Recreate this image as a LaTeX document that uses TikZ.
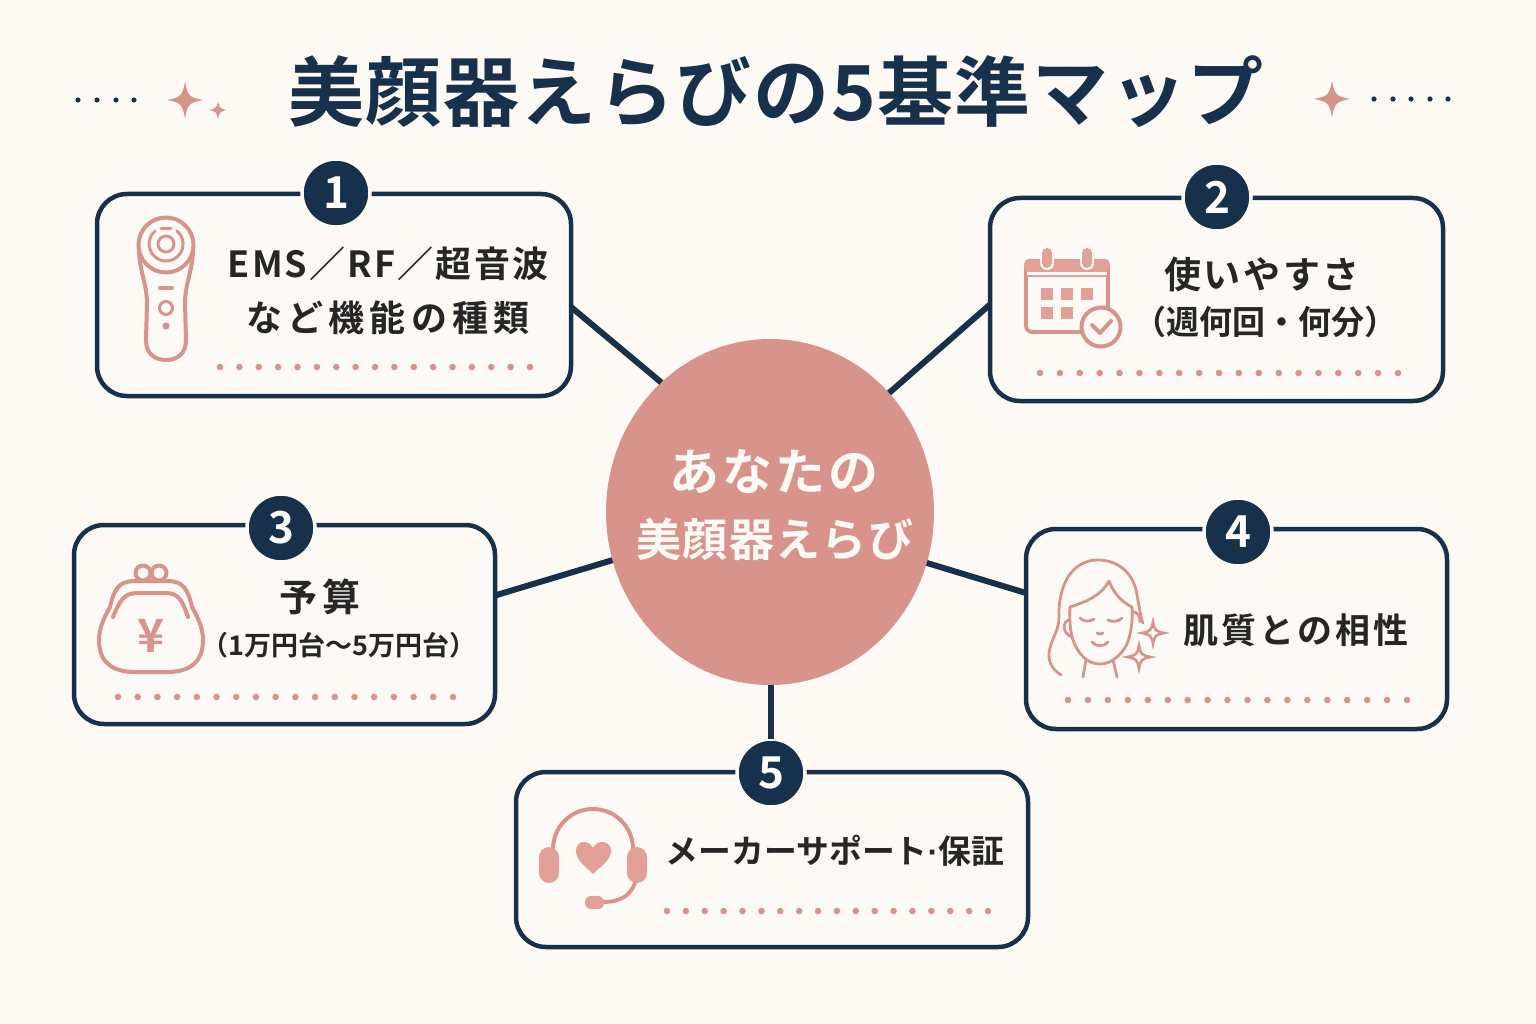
\documentclass[tikz,border=0pt]{standalone}
\usepackage{fontspec}
\usetikzlibrary{shapes.geometric}
\setmainfont{Noto Sans CJK JP}[BoldFont={* Bold}]
\definecolor{pagebg}{HTML}{FDFAF5}
\definecolor{navy}{HTML}{17304B}
\definecolor{rose}{HTML}{D9938D}
\definecolor{rosefill}{HTML}{E3A098}
\definecolor{inkc}{HTML}{262626}
\newcommand{\fs}[2]{\fontsize{#1}{#1}\selectfont\addfontfeature{LetterSpace=#2}}
\newcommand{\dotrow}[4]{%
  \pgfmathsetmacro{\dstep}{(#2-#1)/(#3-1)}%
  \pgfmathtruncatemacro{\dlast}{#3-1}%
  \foreach \i in {0,...,\dlast}{\fill[rose] ({#1+\i*\dstep},#4) circle (3.3);}}
\tikzset{
  x=1pt,y=-1pt,
  card/.style={draw=navy,line width=4.5pt,rounded corners=30pt,fill=pagebg,inner sep=0pt,outer sep=0pt},
  badge/.style={circle,fill=navy,draw=pagebg,line width=3.5pt,minimum size=68pt,inner sep=0pt,outer sep=0pt,text=white,font=\bfseries\fontsize{44}{44}\selectfont},
  link/.style={draw=navy,line width=6pt},
  lab/.style={text=inkc,inner sep=0pt,font=\bfseries},
  icon/.style={draw=rose,line width=4pt,line cap=round,line join=round},
  sparkle/.pic={\path[pic actions] (0,-1) .. controls (.16,-.22) and (.22,-.16) .. (1,0) .. controls (.22,.16) and (.16,.22) .. (0,1) .. controls (-.16,.22) and (-.22,.16) .. (-1,0) .. controls (-.22,-.16) and (-.16,-.22) .. (0,-1) -- cycle;},
}
\begin{document}
\begin{tikzpicture}
\useasboundingbox (0,0) rectangle (1536,1024);
\fill[pagebg] (0,0) rectangle (1536,1024);

% title
\node[inner sep=0pt,text=navy,font=\bfseries] (title) at (776,92) {\fs{76}{2}美顔器えらびの5基準マップ};
\foreach \x in {78,97,116,134}{\fill[navy] (\x,100) circle (2.6);}
\foreach \x in {1374,1393,1411,1430,1448}{\fill[navy] (\x,99) circle (2.6);}
\pic[fill=rose,scale=18] at (185,100) {sparkle};
\pic[fill=rose,scale=9] at (218,110) {sparkle};
\pic[fill=rose,scale=18] at (1332,99) {sparkle};

% cards
\node[card,minimum width=474pt,minimum height=202pt] (box1) at (334,295) {};
\node[card,minimum width=453pt,minimum height=203pt] (box2) at (1216.5,299.5) {};
\node[card,minimum width=421pt,minimum height=199pt] (box3) at (284.5,624.5) {};
\node[card,minimum width=421pt,minimum height=200pt] (box4) at (1236.5,629) {};
\node[card,minimum width=512pt,minimum height=175pt] (box5) at (772,859.5) {};

% centre
\node[ellipse,fill=rose,minimum width=328pt,minimum height=346pt,inner sep=0pt,outer sep=0pt,text=white] (centre) at (770,512) {};
\node[inner sep=0pt,text=pagebg,font=\bfseries] (cline1) at (774,472) {\fs{50}{6}あなたの};
\node[inner sep=0pt,text=pagebg,font=\bfseries] (cline2) at (775,539) {\fs{45}{3}美顔器えらび};

% badges
\node[badge] (b1) at (336,193) {1};
\node[badge] (b2) at (1217,197) {2};
\node[badge] (b3) at (281,528) {3};
\node[badge] (b4) at (1238,532) {4};
\node[badge] (b5) at (771,773) {5};

% connectors
\draw[link] ([yshift=-12pt]box1.east) -- (centre.130);
\draw[link] ([yshift=-5pt]box2.west) -- (centre.45);
\draw[link] ([yshift=29pt]box3.east) -- (centre.197);
\draw[link] ([yshift=36pt]box4.west) -- (centre.-18);
\draw[link] (b5 |- centre.south) -- (b5.north);

% labels
\node[lab] (t1a) at (388,264) {\fs{36}{6}EMS／RF／超音波};
\node[lab] (t1b) at (388,318) {\fs{36}{14}など機能の種類};
\node[lab] (t2a) at (1262,274) {\fs{37}{7}使いやすさ};
\node[lab] (t2b) at (1265,322) {\fs{33}{0}（週何回・何分）};
\node[lab] (t3a) at (320,597) {\fs{38}{12}予算};
\node[lab] (t3b) at (339,645) {\fs{27}{0}（1万円台～5万円台）};
\node[lab] (t4) at (1296,630) {\fs{35}{9}肌質との相性};
\node[lab] (t5) at (835,851) {\fs{32.8}{0}メーカーサポート{\fontspec{Liberation Sans}·}保証};

% dotted rules
\dotrow{220}{530}{17}{367}
\dotrow{1040}{1398}{19}{373}
\dotrow{118}{453}{18}{697}
\dotrow{1068}{1407}{18}{700}
\dotrow{667}{988}{18}{911}

% icon 1: facial device
\draw[icon] (139,252) .. controls (140,272) and (147,285) .. (147,303) -- (146,340) .. controls (146,354) and (155,360) .. (166,360) .. controls (177,360) and (186,354) .. (186,340) -- (185,303) .. controls (185,285) and (192,272) .. (193,252);
\draw[icon] (166,245) circle (27.5);
\draw[icon,line width=3pt] (166,244) circle (8);
\draw[icon,line width=3pt] (177,231) arc[start angle=310,end angle=590,radius=17];
\draw[icon,line width=3pt] (161,228.5) -- (171,228.5);
\draw[icon,line width=4pt] (160,288) -- (172,288);
\draw[icon,line width=3pt] (166,308) circle (6.5);
\fill[rose] (166,326) circle (3.6);

% icon 2: calendar
\draw[icon,line width=3.8pt,fill=pagebg,rounded corners=6pt] (1026,261) rectangle (1108,332);
\fill[rosefill,rounded corners=5pt] (1024,259) rectangle (1110,272);
\fill[pagebg] (1027,272) rectangle (1107,275);
\fill[rosefill] (1027,275) rectangle (1107,277);
\foreach \x in {1047,1087}{
  \draw[pagebg,line width=14pt,line cap=round] (\x,253) -- (\x,263);
  \draw[rosefill,line width=10pt,line cap=round] (\x,253) -- (\x,263);
}
\foreach \x in {1047,1067,1087}{\fill[rosefill] (\x-6,288) rectangle (\x+6,300);}
\foreach \x in {1047,1067}{\fill[rosefill] (\x-6,307) rectangle (\x+6,319);}
\draw[icon,fill=pagebg] (1101,327) circle (19.5);
\draw[icon] (1092,325) -- (1100,333) -- (1111,321);

% icon 3: purse
\draw[icon] (110,607) .. controls (104,618) and (99,628) .. (99,640) .. controls (99,662) and (112,672) .. (135,672) -- (167,672) .. controls (190,672) and (203,662) .. (203,640) .. controls (203,628) and (198,618) .. (192,607);
\draw[icon] (110,607) .. controls (114,590) and (118,581) .. (135,581) -- (167,581) .. controls (184,581) and (188,590) .. (192,607);
\draw[icon] (113,617) .. controls (120,600) and (124,593) .. (138,593) -- (165,593) .. controls (179,593) and (182,600) .. (188,617);
\draw[icon] (143,573) circle (7.5);
\draw[icon] (159,573) circle (7.5);
\node[inner sep=0pt,text=rose,font=\bfseries\fontsize{46}{46}\selectfont] (yen) at (151,636) {¥};

% icon 4: face
\draw[icon,line width=2.8pt] (1061,675) .. controls (1050,668) and (1047,658) .. (1050,648) .. controls (1053,636) and (1059,630) .. (1059,617) .. controls (1058,585) and (1072,560) .. (1098,560) .. controls (1122,560) and (1135,578) .. (1137,595) .. controls (1139,605) and (1140,615) .. (1143,623);
\draw[icon,line width=2.8pt] (1070,607) .. controls (1069,625) and (1071,638) .. (1076,647) .. controls (1082,658) and (1090,664) .. (1100,664) .. controls (1112,664) and (1122,654) .. (1127,644) .. controls (1131,634) and (1133,620) .. (1132,607);
\draw[icon,line width=2.8pt] (1070,607) .. controls (1085,602) and (1100,597) .. (1109,581) .. controls (1114,594) and (1122,602) .. (1132,607);
\draw[icon,line width=2.8pt] (1070,620) .. controls (1062,620) and (1062,634) .. (1072,637);
\draw[icon,line width=2.8pt] (1133,612) .. controls (1138,612) and (1140,617) .. (1140,622);
\draw[icon,line width=2.8pt] (1080,618) .. controls (1084,622) and (1090,622) .. (1094,619);
\draw[icon,line width=2.8pt] (1108,620) .. controls (1112,622) and (1118,622) .. (1122,618);
\draw[icon,line width=2.8pt] (1097,633) .. controls (1099,634.5) and (1101,634.5) .. (1103,633);
\draw[icon,line width=2.8pt] (1092,642) .. controls (1096,647) and (1104,647) .. (1108,642);
\draw[icon,line width=2.8pt] (1086,660) -- (1083,677);
\draw[icon,line width=2.8pt] (1113,660) -- (1117,677);
\pic[draw=rose,fill=pagebg,line width=2.6pt,scale=11] at (1153,633) {sparkle};
\pic[draw=rose,fill=pagebg,line width=2.6pt,scale=11.5] at (1139,657) {sparkle};

% icon 5: headset
\draw[icon,line width=4pt,line cap=butt] (553,849) arc[start angle=180,end angle=360,radius=40];
\fill[rosefill,rounded corners=10pt] (539,847) rectangle (559,883);
\fill[rosefill,rounded corners=10pt] (627,847) rectangle (647,883);
\fill[rosefill] (593,874) .. controls (585,866) and (576,860) .. (576,851) .. controls (576,840) and (589,839) .. (593,848) .. controls (597,839) and (611,840) .. (611,851) .. controls (611,860) and (601,866) .. (593,874) -- cycle;
\draw[icon,line width=3.8pt] (635,883) .. controls (630,896) and (620,902) .. (603,902);
\fill[rosefill,rounded corners=6pt] (585,896) rectangle (604,909);
\end{tikzpicture}
\end{document}
